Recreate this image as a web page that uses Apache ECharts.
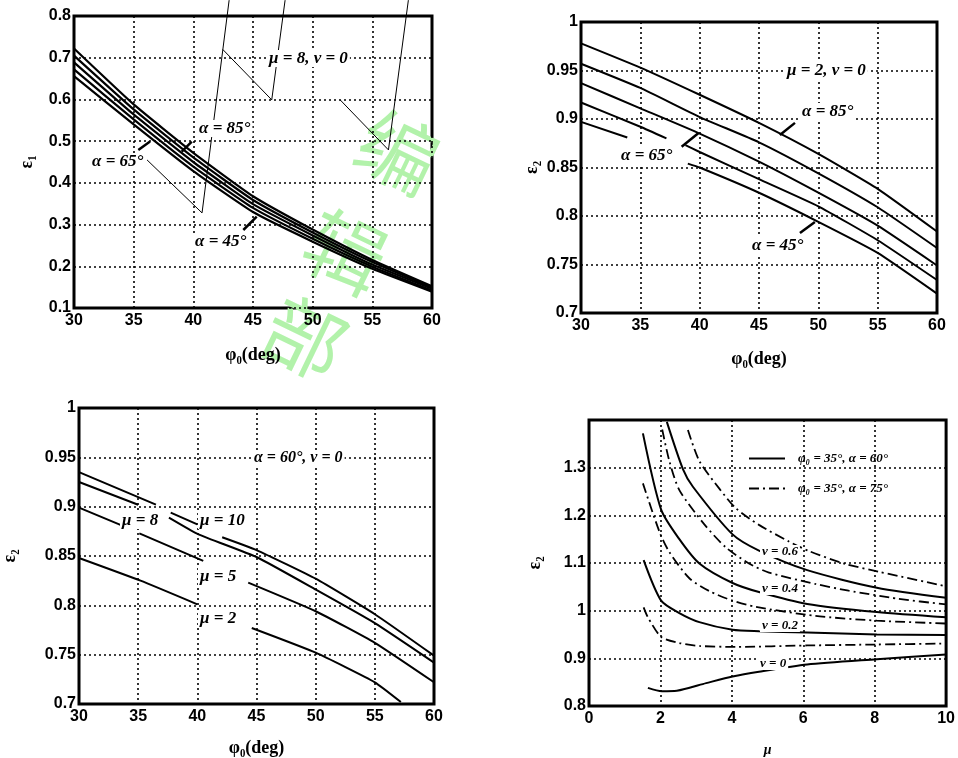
<!DOCTYPE html>
<html>
<head>
<meta charset="utf-8">
<script src="https://cdn.jsdelivr.net/npm/echarts@6/dist/echarts.min.js"></script>
<style>
  html, body { margin: 0; padding: 0; background: #fff; }
  #main { width: 958px; height: 758px; }
</style>
</head>
<body>
<div id="main"></div>
<script>
// ---- data ----
// panel 1: eps1 vs phi0, mu=8, nu=0 (alpha 85 .. 45, top to bottom)
const p1X = [30, 35, 40, 45, 50, 55, 60];
const p1A85 = [0.722, 0.588, 0.472, 0.368, 0.288, 0.215, 0.152];
const p1A75 = [0.705, 0.576, 0.461, 0.359, 0.281, 0.210, 0.149];
const p1A65 = [0.689, 0.564, 0.450, 0.349, 0.274, 0.204, 0.146];
const p1A55 = [0.672, 0.552, 0.439, 0.340, 0.266, 0.199, 0.142];
const p1A45 = [0.656, 0.540, 0.428, 0.330, 0.259, 0.194, 0.139];

// panel 2: eps2 vs phi0, mu=2, nu=0 ('-' = gap under a label)
const p2A85 = [[30, 0.978], [35, 0.953], [40, 0.925], [45, 0.896], [50, 0.864], [55, 0.828], [60, 0.784]];
const p2A75 = [[30, 0.957], [35, 0.932], [40, 0.902], [45, 0.876], [50, 0.844], [55, 0.809], [60, 0.767]];
const p2A65 = [[30, 0.937], [35, 0.911], [40, 0.885], [45, 0.856], [50, 0.824], [55, 0.790], [60, 0.749]];
const p2A55 = [[30, 0.917], [35, 0.892], [37.2, 0.880], [38, '-'], [38.8, 0.873], [40, 0.866], [45, 0.838], [50, 0.810], [55, 0.775], [60, 0.734]];
const p2A45 = [[30, 0.897], [33.9, 0.881], [36, '-'], [39, 0.854], [40, 0.850], [45, 0.824], [50, 0.794], [55, 0.762], [60, 0.720]];

// panel 3: eps2 vs phi0, alpha=60, nu=0
const p3M10 = [[30, 0.935], [36.5, 0.902], [37.2, '-'], [37.75, 0.894], [40, 0.882], [41, '-'], [42.1, 0.869], [45, 0.856], [50, 0.827], [55, 0.791], [60, 0.749]];
const p3M8 = [[30, 0.925], [35, 0.902], [36, '-'], [37.6, 0.889], [40.1, 0.872], [45, 0.849], [50, 0.816], [55, 0.782], [60, 0.742]];
const p3M5 = [[30, 0.899], [33.6, 0.881], [34.3, '-'], [35.1, 0.873], [40.5, 0.845], [42, '-'], [44.3, 0.823], [50, 0.794], [55, 0.762], [60, 0.722]];
const p3M2 = [[30, 0.848], [35.2, 0.825], [40, 0.801], [42, '-'], [44.6, 0.777], [50, 0.752], [55, 0.722], [57.2, 0.702]];

// panel 4: eps2 vs mu, solid = alpha 60, dash-dot = alpha 75
const p4S06 = [[2.18, 1.396], [2.63, 1.297], [2.91, 1.26], [4.02, 1.16], [4.76, 1.126], [6.11, 1.085], [8.06, 1.048], [10, 1.027]];
const p4S04 = [[1.51, 1.372], [2.02, 1.212], [2.53, 1.150], [3.09, 1.099], [4.02, 1.058], [4.76, 1.039], [6.11, 1.014], [8.06, 0.997], [10, 0.986]];
const p4S02 = [[1.53, 1.106], [2.02, 1.021], [2.53, 0.995], [3.09, 0.976], [4.02, 0.960], [4.76, 0.957], [6.11, 0.954], [8.06, 0.950], [10, 0.949]];
const p4S00 = [[1.65, 0.838], [2.04, 0.831], [2.46, 0.832], [3.28, 0.848], [4.02, 0.862], [4.76, 0.872], [6.11, 0.887], [8.06, 0.898], [10, 0.908]];
const p4D06 = [[2.77, 1.379], [3.09, 1.314], [3.65, 1.256], [4.11, 1.215], [4.76, 1.180], [5.6, 1.145], [6.16, 1.125], [7.18, 1.098], [8.1, 1.082], [10, 1.051]];
const p4D04 = [[2.05, 1.38], [2.25, 1.314], [2.53, 1.253], [3.23, 1.181], [3.83, 1.133], [4.48, 1.099], [5.04, 1.080], [6.34, 1.056], [7.27, 1.042], [8.66, 1.025], [10, 1.013]];
const p4D02 = [[1.51, 1.267], [1.98, 1.164], [2.25, 1.123], [2.81, 1.068], [3.37, 1.041], [4.02, 1.021], [4.67, 1.008], [6.34, 0.989], [8.06, 0.979], [10, 0.973]];
const p4D00 = [[1.53, 1.007], [1.65, 0.986], [2.02, 0.945], [2.53, 0.932], [3.09, 0.926], [4.11, 0.924], [6.11, 0.927], [8.06, 0.929], [10, 0.931]];

// leader lines / pointers drawn in panel data space
const p1LeadA = [[43.0, 0.838], [40.73, 0.328], [36.12, 0.455]];
const p1LeadB = [[47.69, 0.838], [46.57, 0.599], [42.46, 0.72]];
const p1LeadC = [[58.02, 0.838], [56.35, 0.479], [52.30, 0.599]];
const p1Ptr85 = [[39.03, 0.475], [39.87, 0.499]];
const p1Ptr65 = [[35.39, 0.479], [36.37, 0.499]];
const p1Ptr45 = [[44.19, 0.287], [45.31, 0.319]];
const p2Ptr85 = [[46.76, 0.8835], [48.03, 0.896]];
const p2Ptr65 = [[38.48, 0.8714], [39.88, 0.8853]];
const p2Ptr45 = [[48.45, 0.7825], [49.71, 0.7938]];

const LEG1 = 'φ₀ = 35°, α = 60°';
const LEG2 = 'φ₀ = 35°, α = 75°';

const SANS = '"Liberation Sans", Arial, sans-serif';
const SERIF = '"Liberation Serif", "DejaVu Serif", serif';

function zip(xs, ys) { return xs.map((x, i) => [x, ys[i]]); }

function xAxisOf(gi, min, max, interval, name, gap, nameSize) {
  return {
    gridIndex: gi, type: 'value', min: min, max: max, interval: interval,
    axisLine: { show: false }, axisTick: { show: false },
    axisLabel: { color: '#000', fontSize: 16, fontWeight: 'bold', fontFamily: SANS, margin: 5 },
    splitLine: { show: true, lineStyle: { color: '#000', type: [2, 3], width: 1.6 } },
    name: name, nameLocation: 'middle', nameGap: gap,
    nameTextStyle: { color: '#000', fontSize: nameSize, fontWeight: 'bold', fontFamily: SERIF, fontStyle: gi === 3 ? 'italic' : 'normal' }
  };
}
function yAxisOf(gi, min, max, interval, name, gap, fmt) {
  return {
    gridIndex: gi, type: 'value', min: min, max: max, interval: interval,
    axisLine: { show: false }, axisTick: { show: false },
    axisLabel: { color: '#000', fontSize: 16, fontWeight: 'bold', fontFamily: SANS, margin: 3, formatter: fmt },
    splitLine: { show: true, lineStyle: { color: '#000', type: [2, 3], width: 1.6 } },
    name: name, nameLocation: 'middle', nameGap: gap,
    nameTextStyle: { color: '#000', fontSize: 18, fontWeight: 'bold', fontFamily: SERIF }
  };
}

function curve(gi, data, opts) {
  opts = opts || {};
  return {
    type: 'line', xAxisIndex: gi, yAxisIndex: gi, data: data, name: opts.name,
    symbol: 'none', smooth: opts.smooth === undefined ? 0.15 : opts.smooth,
    silent: true, clip: opts.clip === undefined ? true : opts.clip,
    lineStyle: { color: '#000', width: opts.width || 2, type: opts.type || 'solid' },
    itemStyle: { color: '#000' }, z: 3
  };
}

function label(text, x, y, size) {
  return {
    type: 'text', left: x, top: y, z: 50,
    style: {
      text: text, x: 0, y: 0, fill: '#000', backgroundColor: '#fff',
      font: 'italic bold ' + size + 'px ' + SERIF, padding: [0, 2]
    }
  };
}
function mark(ch, x, y) {
  return {
    type: 'text', x: x, y: y, rotation: -0.45, z: 0,
    style: {
      text: ch, fill: '#b2f2aa', font: '80px "Noto Sans CJK SC", sans-serif',
      align: 'center', verticalAlign: 'middle'
    }
  };
}

const fmt1 = v => v.toFixed(1);
const fmt2 = v => String(+v.toFixed(2));
const fmt4 = v => (v > 1.35 ? '' : String(+v.toFixed(1)));

const dashDot = [10, 4, 2, 4];

const option = {
  backgroundColor: '#fff',
  animation: false,
  grid: [
    { left: 74, top: 16, width: 358, height: 292, show: true, borderColor: '#000', borderWidth: 3 },
    { left: 581, top: 22, width: 356, height: 291, show: true, borderColor: '#000', borderWidth: 3 },
    { left: 71, top: 408, width: 363, height: 297, show: true, borderColor: '#000', borderWidth: 3 },
    { left: 589, top: 420, width: 359, height: 293, show: true, borderColor: '#000', borderWidth: 3 }
  ],
  xAxis: [
    xAxisOf(0, 30, 60, 5, 'φ₀(deg)', 38, 18),
    xAxisOf(1, 30, 60, 5, 'φ₀(deg)', 37, 18),
    xAxisOf(2, 30, 60, 5, 'φ₀(deg)', 35, 18),
    xAxisOf(3, 0, 10, 2, 'μ', 37, 14)
  ],
  yAxis: [
    yAxisOf(0, 0.1, 0.8, 0.1, 'ε₁', 38, fmt1),
    yAxisOf(1, 0.7, 1, 0.05, 'ε₂', 40, fmt2),
    yAxisOf(2, 0.7, 1, 0.05, 'ε₂', 60, fmt2),
    yAxisOf(3, 0.8, 1.4, 0.1, 'ε₂', 45, fmt4)
  ],
  legend: {
    left: 743, top: 447, orient: 'vertical', itemWidth: 36, itemHeight: 14, itemGap: 17,
    data: [LEG1, LEG2],
    itemStyle: { color: 'rgba(0,0,0,0)', borderWidth: 0 },
    textStyle: { color: '#000', fontSize: 13, fontWeight: 'bold', fontStyle: 'italic', fontFamily: SERIF, padding: [0, 0, 0, 8] }
  },
  series: [
    curve(0, zip(p1X, p1A85), { width: 2.2 }), curve(0, zip(p1X, p1A75), { width: 2.2 }),
    curve(0, zip(p1X, p1A65), { width: 2.2 }), curve(0, zip(p1X, p1A55), { width: 2.2 }),
    curve(0, zip(p1X, p1A45), { width: 2.2 }),
    curve(0, p1LeadA, { width: 1, smooth: false, clip: false }),
    curve(0, p1LeadB, { width: 1, smooth: false, clip: false }),
    curve(0, p1LeadC, { width: 1, smooth: false, clip: false }),
    curve(0, p1Ptr85, { width: 2.5, smooth: false }),
    curve(0, p1Ptr65, { width: 2.5, smooth: false }),
    curve(0, p1Ptr45, { width: 2.5, smooth: false }),

    curve(1, p2A85), curve(1, p2A75), curve(1, p2A65), curve(1, p2A55), curve(1, p2A45),
    curve(1, p2Ptr85, { width: 2.5, smooth: false }),
    curve(1, p2Ptr65, { width: 2.5, smooth: false }),
    curve(1, p2Ptr45, { width: 2.5, smooth: false }),

    curve(2, p3M10), curve(2, p3M8), curve(2, p3M5), curve(2, p3M2),

    curve(3, p4S06, { name: LEG1, smooth: 0.25 }),
    curve(3, p4S04, { name: LEG1, smooth: 0.25 }),
    curve(3, p4S02, { name: LEG1, smooth: 0.25 }),
    curve(3, p4S00, { name: LEG1, smooth: 0.25 }),
    curve(3, p4D06, { name: LEG2, type: dashDot, width: 1.8, smooth: 0.25 }),
    curve(3, p4D04, { name: LEG2, type: dashDot, width: 1.8, smooth: 0.25 }),
    curve(3, p4D02, { name: LEG2, type: dashDot, width: 1.8, smooth: 0.25 }),
    curve(3, p4D00, { name: LEG2, type: dashDot, width: 1.8, smooth: 0.25 })
  ],
  graphic: [
    mark('编', 398, 152), mark('辑', 345, 252), mark('部', 305, 338),
    label('μ = 8, ν = 0', 267, 50, 17),
    label('α = 85°', 197, 120, 17),
    label('α = 65°', 90, 153, 17),
    label('α = 45°', 193, 233, 17),
    label('μ = 2, ν = 0', 785, 62, 17),
    label('α = 85°', 800, 103, 17),
    label('α = 65°', 619, 147, 17),
    label('α = 45°', 750, 237, 17),
    label('α = 60°, ν = 0', 252, 450, 16),
    label('μ = 8', 120, 512, 17),
    label('μ = 10', 198, 512, 17),
    label('μ = 5', 198, 568, 17),
    label('μ = 2', 198, 610, 17),
    label('ν = 0.6', 760, 545, 13),
    label('ν = 0.4', 760, 582, 13),
    label('ν = 0.2', 760, 619, 13),
    label('ν = 0', 758, 657, 13)
  ]
};

const chart = echarts.init(document.getElementById('main'), null, { renderer: 'canvas' });
chart.setOption(option);
</script>
</body>
</html>
